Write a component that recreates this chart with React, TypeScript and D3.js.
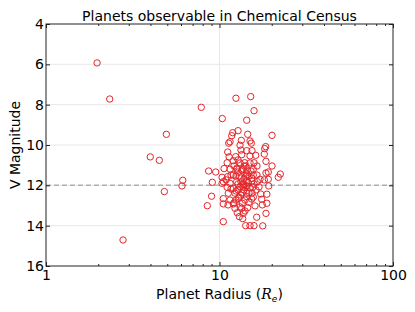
import { useEffect, useRef } from 'react';
import * as d3 from 'd3';

// planet radius in Earth radii, V magnitude of host star
const radius = [
  1.97, 2.33, 7.85, 4.94, 3.99, 4.5, 6.14, 6.08, 4.81, 2.78,
  12.44, 15.13, 15.81, 10.38, 14.35, 12.79, 11.92, 20.08, 14.54, 11.76,
  11.5, 11.3, 13.36, 14.99, 15.25, 18.46, 18.22, 13.13, 11.15, 13.3,
  14.35, 15.39, 16.17, 18.12, 12.4, 13.43, 14.99, 11.07, 12.01, 13.97,
  15.81, 18.53, 20.08, 10.62, 11.5, 12.56, 13.72, 15.66, 8.66, 9.51,
  18.53, 19.11, 22.41, 21.82, 9.09, 10.34, 11.15, 12.01, 13.01, 14.16,
  15.34, 17.12, 19.11, 10.52, 11.5, 12.56, 13.72, 14.62, 16.52, 18.12,
  19.22, 11.07, 12.01, 13.13, 14.22, 15.54, 11.24, 12.28, 13.25, 14.35,
  17.28, 18.75, 9.0, 10.52, 11.5, 12.84, 14.35, 15.34, 17.51, 8.51,
  10.52, 12.01, 13.53, 14.79, 17.65, 12.28, 13.43, 14.54, 12.66, 13.72,
  18.53, 13.01, 13.61, 16.39, 10.52, 14.16, 14.99, 15.81, 17.75,
  10.34, 18.75,
  12.79, 13.84, 14.41, 14.99, 13.84, 12.79, 14.22, 13.13, 13.84, 14.79,
  12.44, 15.66, 13.3, 11.65, 14.41, 12.12, 16.23, 11.2, 16.45, 11.36,
  12.61, 13.48, 14.22, 15.19, 12.44, 13.3, 14.41, 15.39, 12.79, 13.66,
  14.41, 15.81, 12.44, 13.48, 15.39, 12.95, 14.03, 12.12, 13.13, 14.03,
  16.02, 11.65, 10.91, 16.45, 16.9, 13.84, 14.99, 12.79, 15.66, 14.79,
];

const vmag = [
  5.93, 7.72, 8.13, 9.47, 10.59, 10.76, 11.75, 12.03, 12.31, 14.71,
  7.68, 7.6, 8.3, 8.69, 8.77, 9.29, 9.39, 9.52, 9.47, 9.54,
  9.84, 9.91, 9.77, 9.8, 9.91, 10.08, 10.18, 10.01, 10.35, 10.25,
  10.28, 10.28, 10.51, 10.45, 10.58, 10.48, 10.54, 10.88, 10.78, 10.88,
  10.88, 10.81, 11.04, 11.17, 11.2, 11.2, 11.2, 11.2, 11.29, 11.34,
  11.39, 11.34, 11.44, 11.6, 11.85, 11.6, 11.57, 11.49, 11.54, 11.57,
  11.65, 11.7, 11.7, 11.82, 11.9, 11.82, 11.93, 11.87, 11.82, 11.73,
  12.03, 12.1, 12.15, 12.07, 12.03, 12.1, 12.39, 12.39, 12.48, 12.39,
  12.43, 12.44, 12.54, 12.66, 12.73, 12.64, 12.56, 12.68, 12.69, 13.01,
  12.92, 12.92, 12.89, 12.84, 12.97, 13.14, 13.14, 13.11, 13.36, 13.39,
  13.39, 13.55, 13.65, 13.58, 13.8, 14.0, 14.0, 14.0, 14.01,
  11.9, 12.89,
  11.34, 11.68, 11.49, 12.13, 12.23, 12.23, 11.04, 10.89, 11.98, 12.38,
  12.73, 11.49, 11.83, 11.49, 11.24, 11.04, 12.23, 12.97, 11.04, 10.59,
  11.14, 11.24, 11.39, 11.29, 11.54, 11.64, 11.78, 11.78, 11.93, 12.08,
  12.03, 11.93, 12.28, 12.38, 12.38, 12.58, 12.73, 12.87, 13.07, 13.27,
  13.02, 12.18, 11.73, 11.49, 12.08, 11.04, 10.89, 10.74, 12.58, 11.54,
];

const xTicks = [1, 10, 100];
const xMinor = [2, 3, 4, 5, 6, 7, 8, 9, 20, 30, 40, 50, 60, 70, 80, 90];
const yTicks = [4, 6, 8, 10, 12, 14, 16];
const magLimit = 12;

const W = 415;
const H = 312;
const font = 'DejaVu Sans';

export default function App() {
  const ref = useRef<SVGSVGElement>(null);

  useEffect(() => {
    const svg = d3.select(ref.current);
    svg.selectAll('*').remove();

    const x = d3.scaleLog().domain([1, 100]).range([46, 393]);
    const y = d3.scaleLinear().domain([4, 16]).range([24, 266]);
    const [x0, x1] = x.range();
    const [y0, y1] = y.range();

    // grid
    const grid = svg.append('g').attr('stroke', '#e8e8e8').attr('stroke-width', 1);
    grid
      .selectAll('.gy')
      .data(yTicks.slice(1, -1))
      .enter()
      .append('line')
      .attr('x1', x0)
      .attr('x2', x1)
      .attr('y1', (d) => y(d))
      .attr('y2', (d) => y(d));
    grid
      .selectAll('.gx')
      .data(xTicks.slice(1, -1))
      .enter()
      .append('line')
      .attr('y1', y0)
      .attr('y2', y1)
      .attr('x1', (d) => x(d))
      .attr('x2', (d) => x(d));

    // magnitude cut
    svg
      .append('line')
      .attr('x1', x0)
      .attr('x2', x1)
      .attr('y1', y(magLimit))
      .attr('y2', y(magLimit))
      .attr('stroke', '#b0b0b0')
      .attr('stroke-width', 1.5)
      .attr('stroke-dasharray', '5,3');

    const pts = d3.zip(radius, vmag);
    svg
      .append('g')
      .selectAll('circle')
      .data(pts)
      .enter()
      .append('circle')
      .attr('cx', (d) => x(d[0]))
      .attr('cy', (d) => y(d[1]))
      .attr('r', 3.2)
      .attr('fill', 'none')
      .attr('stroke', '#e3262b')
      .attr('stroke-width', 1);

    const style = (g: any) => {
      g.select('.domain').remove();
      g.selectAll('line').attr('stroke', '#222');
      g.selectAll('text').attr('font-family', font).attr('font-size', 14).attr('fill', '#000');
    };

    svg
      .append('g')
      .attr('transform', `translate(0,${y1})`)
      .call(d3.axisBottom(x).tickValues(xTicks).tickFormat(d3.format('d')).tickSize(-4).tickPadding(4))
      .call(style);
    svg
      .append('g')
      .attr('transform', `translate(0,${y1})`)
      .call(d3.axisBottom(x).tickValues(xMinor).tickFormat(() => '').tickSize(-2))
      .call(style);
    svg
      .append('g')
      .attr('transform', `translate(0,${y0})`)
      .call(d3.axisTop(x).tickValues(xTicks).tickFormat(() => '').tickSize(-4))
      .call(style);
    svg
      .append('g')
      .attr('transform', `translate(0,${y0})`)
      .call(d3.axisTop(x).tickValues(xMinor).tickFormat(() => '').tickSize(-2))
      .call(style);
    svg
      .append('g')
      .attr('transform', `translate(${x0},0)`)
      .call(d3.axisLeft(y).tickValues(yTicks).tickSize(-4).tickPadding(2))
      .call(style);
    svg
      .append('g')
      .attr('transform', `translate(${x1},0)`)
      .call(d3.axisRight(y).tickValues(yTicks).tickFormat(() => '').tickSize(-4))
      .call(style);

    svg
      .append('rect')
      .attr('x', x0)
      .attr('y', y0)
      .attr('width', x1 - x0)
      .attr('height', y1 - y0)
      .attr('fill', 'none')
      .attr('stroke', '#222')
      .attr('stroke-width', 1);

    svg
      .append('text')
      .attr('x', (x0 + x1) / 2)
      .attr('y', 20.5)
      .attr('text-anchor', 'middle')
      .attr('font-family', font)
      .attr('font-size', 14)
      .text('Planets observable in Chemical Census');

    const xl = svg
      .append('text')
      .attr('x', (x0 + x1) / 2)
      .attr('y', 299)
      .attr('text-anchor', 'middle')
      .attr('font-family', font)
      .attr('font-size', 14);
    xl.append('tspan').text('Planet Radius (');
    xl.append('tspan').attr('font-style', 'italic').attr('font-family', 'DejaVu Serif').text('R');
    xl.append('tspan').attr('font-style', 'italic').attr('font-size', 9).attr('dy', 3).text('e');
    xl.append('tspan').attr('dy', -3).text(')');

    svg
      .append('text')
      .attr('transform', `translate(20,${(y0 + y1) / 2}) rotate(-90)`)
      .attr('text-anchor', 'middle')
      .attr('font-family', font)
      .attr('font-size', 14)
      .text('V Magnitude');
  }, []);

  return <svg ref={ref} width={W} height={H} style={{ position: 'absolute', left: 0, top: 0, background: '#fff' }} />;
}
